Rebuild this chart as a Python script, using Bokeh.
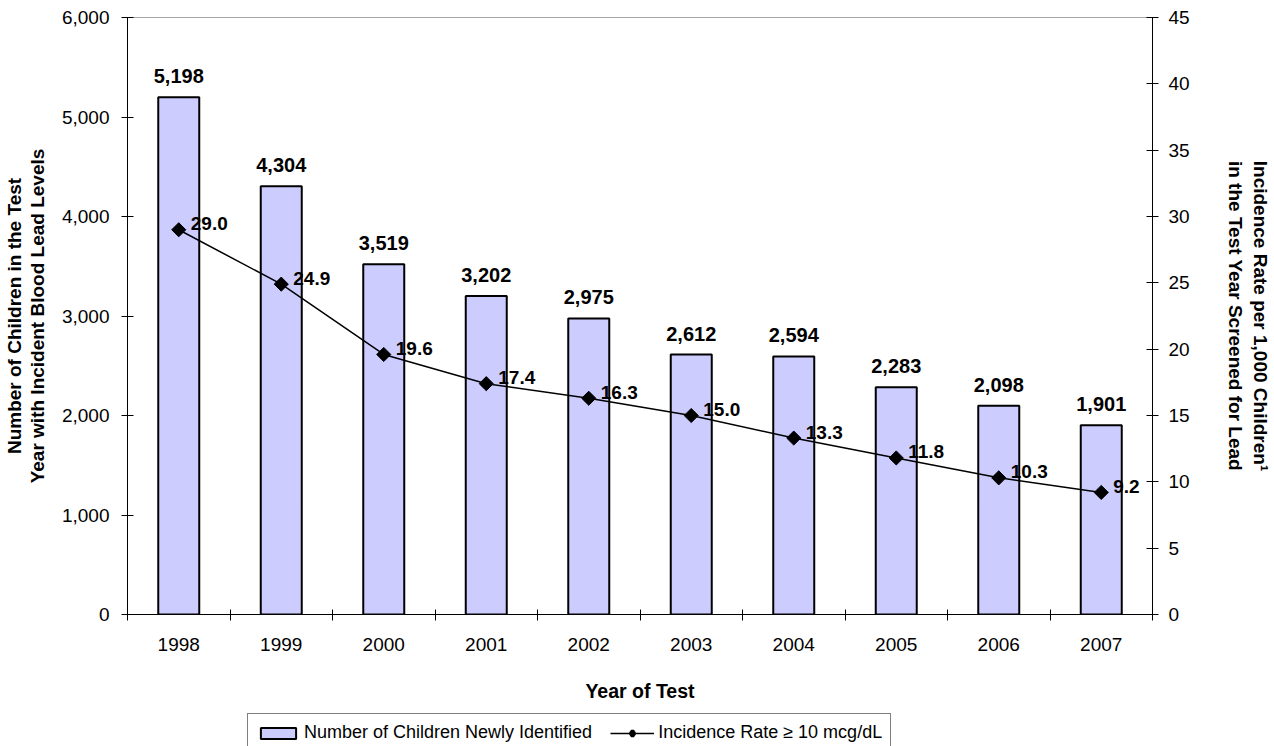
import math

from bokeh.plotting import figure
from bokeh.layouts import column
from bokeh.models import (ColumnDataSource, Range1d, LinearAxis, FixedTicker,
                          NumeralTickFormatter, Legend, LegendItem)
from bokeh.core.properties import value
from bokeh.embed import file_html
from bokeh.resources import INLINE

# Data
years = ["1998", "1999", "2000", "2001", "2002", "2003", "2004", "2005", "2006", "2007"]
children_identified = [5198, 4304, 3519, 3202, 2975, 2612, 2594, 2283, 2098, 1901]
incidence_rate = [29.0, 24.9, 19.6, 17.4, 16.3, 15.0, 13.3, 11.8, 10.3, 9.2]
left_ticks = [0, 1000, 2000, 3000, 4000, 5000, 6000]
right_ticks = [0, 5, 10, 15, 20, 25, 30, 35, 40, 45]

bar_series_name = "Number of Children Newly Identified"
line_series_name = "Incidence Rate \u2265 10 mcg/dL"

FONT = "Liberation Sans"
BAR_FILL = "#CCCCFF"
BAR_OUTLINE = 2
LINE_WIDTH = 1.5

centers = [i + 0.5 for i in range(len(years))]
source = ColumnDataSource(dict(
    x=centers,
    children=children_identified,
    rate=incidence_rate,
    children_label=[f"{v:,}" for v in children_identified],
    rate_label=[f"{v:.1f}" for v in incidence_rate],
))

p = figure(
    width=1274, height=710,
    x_range=Range1d(0, len(years)), y_range=Range1d(left_ticks[0], left_ticks[-1]),
    output_backend="svg", toolbar_location=None,
    min_border_left=126, min_border_right=122, min_border_top=17, min_border_bottom=96,
    background_fill_color="white", border_fill_color="white",
)
p.outline_line_color = None
p.xgrid.grid_line_color = None
p.ygrid.grid_line_color = None
p.extra_y_ranges = {"rate": Range1d(right_ticks[0], right_ticks[-1])}

# Bottom category axis: labels at bar centres, ticks on category boundaries
xaxis = p.xaxis[0]
xaxis.ticker = FixedTicker(ticks=centers, minor_ticks=list(range(len(years) + 1)))
xaxis.major_label_overrides = {c: y for c, y in zip(centers, years)}
xaxis.major_tick_line_color = None
xaxis.minor_tick_in = 5
xaxis.minor_tick_out = 6
xaxis.minor_tick_line_color = "black"
xaxis.axis_line_color = "black"
xaxis.major_label_text_font = FONT
xaxis.major_label_text_font_size = "19px"
xaxis.major_label_text_color = "black"
xaxis.major_label_standoff = 17
xaxis.axis_label = "Year of Test"
xaxis.axis_label_text_font = FONT
xaxis.axis_label_text_font_size = "19.5px"
xaxis.axis_label_text_font_style = "bold"
xaxis.axis_label_text_color = "black"
xaxis.axis_label_standoff = 26

# Left axis: number of children
yaxis = p.yaxis[0]
yaxis.ticker = FixedTicker(ticks=left_ticks)
yaxis.formatter = NumeralTickFormatter(format="0,0")
yaxis.major_tick_in = 6
yaxis.major_tick_out = 6
yaxis.minor_tick_line_color = None
yaxis.axis_line_color = "black"
yaxis.major_tick_line_color = "black"
yaxis.major_label_text_font = FONT
yaxis.major_label_text_font_size = "19px"
yaxis.major_label_text_color = "black"
yaxis.major_label_standoff = 12
yaxis.axis_label = "Number of Children in the Test\nYear with Incident Blood Lead Levels"
yaxis.axis_label_text_font = FONT
yaxis.axis_label_text_font_size = "19px"
yaxis.axis_label_text_font_style = "bold"
yaxis.axis_label_text_color = "black"
yaxis.axis_label_text_line_height = 1.1
yaxis.axis_label_standoff = 11

# Right axis: incidence rate
raxis = LinearAxis(
    y_range_name="rate",
    ticker=FixedTicker(ticks=right_ticks),
    major_tick_in=6, major_tick_out=6,
    minor_tick_line_color=None,
    axis_line_color="black", major_tick_line_color="black",
    major_label_text_font=FONT, major_label_text_font_size="19px",
    major_label_text_color="black", major_label_standoff=10,
    axis_label="Incidence Rate per 1,000 Children\u00b9\nin the Test Year Screened for Lead",
    axis_label_text_font=FONT, axis_label_text_font_size="19px",
    axis_label_text_font_style="bold", axis_label_text_color="black",
    axis_label_standoff=32,
)
p.add_layout(raxis, "right")

# Thin grey rule along the top of the plot area
top_rule = LinearAxis(
    ticker=FixedTicker(ticks=[]),
    axis_line_color="#a6a6a6", axis_line_width=1,
    major_tick_line_color=None, minor_tick_line_color=None,
    major_label_text_font_size="0px",
)
p.add_layout(top_rule, "above")

# Bars for the counts
p.vbar(x="x", top="children", width=0.4, source=source,
       fill_color=BAR_FILL, line_color="black", line_width=BAR_OUTLINE)

# Incidence rate line with diamond markers
p.line(x="x", y="rate", source=source, y_range_name="rate",
       line_color="black", line_width=LINE_WIDTH)
p.scatter(x="x", y="rate", source=source, y_range_name="rate",
          marker="square", angle=math.pi / 4, size=10,
          fill_color="black", line_color="black")

# Value labels
p.text(x="x", y="children", text="children_label", source=source,
       text_font=value(FONT), text_font_size="20px", text_font_style="bold",
       text_color="black", text_align="center", text_baseline="alphabetic",
       y_offset=-21)
p.text(x="x", y="rate", text="rate_label", source=source, y_range_name="rate",
       text_font=value(FONT), text_font_size="19px", text_font_style="bold",
       text_color="black", text_align="left", text_baseline="alphabetic",
       x_offset=12, y_offset=-6)

# Legend strip under the chart; the swatch renderers hold a single empty (NaN)
# row, so only their legend glyphs are drawn
lg = figure(
    width=1274, height=36, x_range=Range1d(0, 1), y_range=Range1d(0, 1),
    output_backend="svg", toolbar_location=None, min_border=0,
    x_axis_location=None, y_axis_location=None,
    background_fill_color="white", border_fill_color="white",
)
lg.outline_line_color = None
lg.xgrid.grid_line_color = None
lg.ygrid.grid_line_color = None

swatch_src = ColumnDataSource(dict(x=[float("nan")], y=[float("nan")]))
bar_swatch = lg.vbar(x="x", top="y", width=0.4, source=swatch_src,
                     fill_color=BAR_FILL, line_color="black", line_width=BAR_OUTLINE)
line_swatch = lg.line(x="x", y="y", source=swatch_src,
                      line_color="black", line_width=LINE_WIDTH)
mark_swatch = lg.scatter(x="x", y="y", source=swatch_src, marker="diamond", size=10,
                         fill_color="black", line_color="black", line_width=3.5)

legend = Legend(
    items=[
        LegendItem(label=bar_series_name, renderers=[bar_swatch]),
        LegendItem(label=line_series_name, renderers=[line_swatch, mark_swatch]),
    ],
    orientation="horizontal",
    location=(120, -6),
    glyph_width=44, glyph_height=14,
    label_standoff=4, spacing=18, padding=8, margin=0,
    label_text_font=FONT, label_text_font_size="18px", label_text_color="black",
    border_line_color="black", border_line_width=1,
    background_fill_color="white", background_fill_alpha=1,
)
lg.add_layout(legend, "center")

layout = column(p, lg, spacing=0)
open("out.html", "w").write(file_html(layout, INLINE))
